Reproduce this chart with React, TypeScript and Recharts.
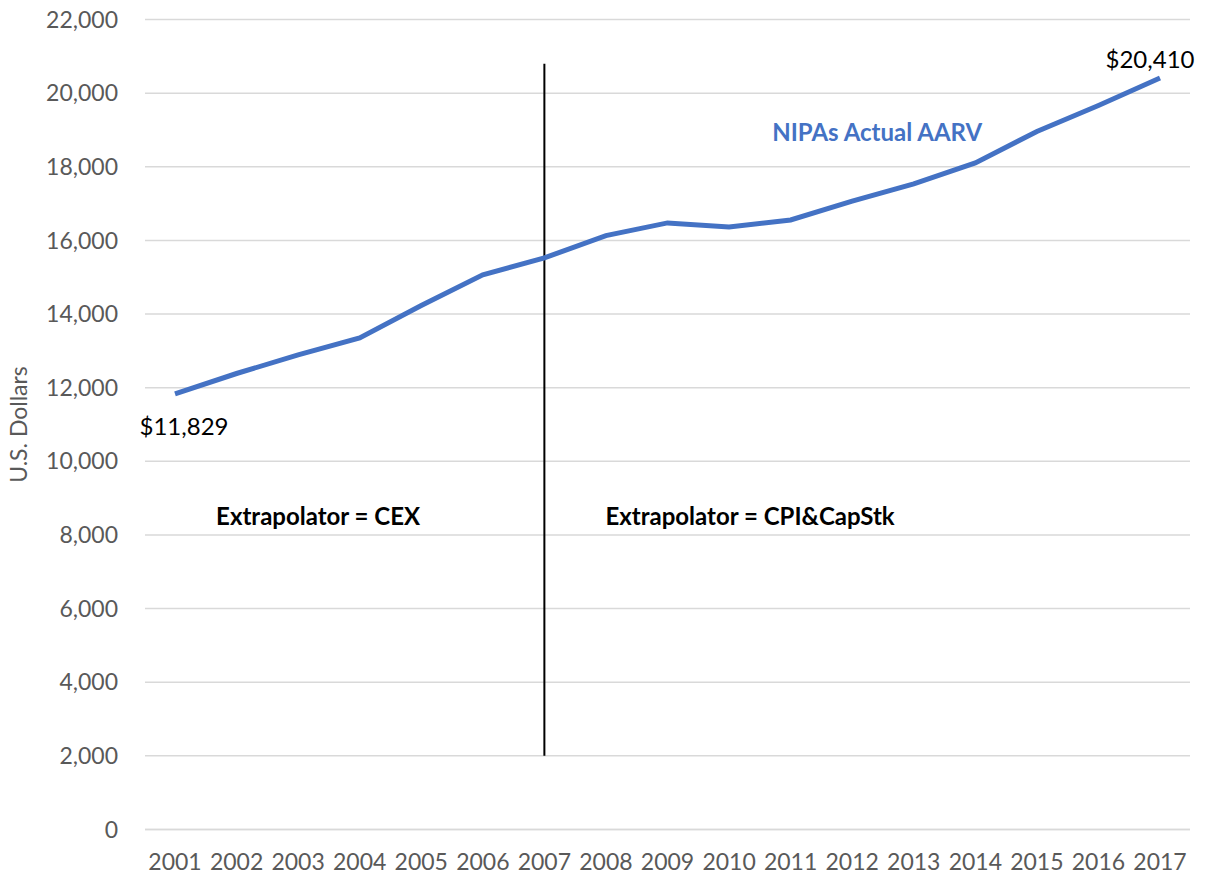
import React from "react";
import { CartesianGrid, LabelList, Line, LineChart, ReferenceDot, ReferenceLine, XAxis, YAxis } from "recharts";

const YEARS = ["2001", "2002", "2003", "2004", "2005", "2006", "2007", "2008", "2009", "2010", "2011", "2012", "2013", "2014", "2015", "2016", "2017"];
const AARV = [11829, 12385, 12890, 13350, 14230, 15065, 15525, 16130, 16475, 16365, 16555, 17065, 17535, 18105, 18957, 19663, 20410];
const Y_TICKS = [0, 2000, 4000, 6000, 8000, 10000, 12000, 14000, 16000, 18000, 20000, 22000];

const FONT = "Lato, 'Open Sans', sans-serif";
const BLUE = "#4472C4";
const GREY = "#595959";

const rows = YEARS.map((year, i) => ({ year, aarv: AARV[i] }));

// only the first and last points carry a value label
function EndLabel(props: any) {
  const { x, y, index, value } = props;
  if (index !== 0 && index !== YEARS.length - 1) return null;
  const first = index === 0;
  return (
    <text
      x={x + (first ? 9 : -10)}
      y={y + (first ? 32 : -20)}
      textAnchor="middle"
      dominantBaseline="central"
      fontFamily={FONT}
      fontSize={24}
      fill="#000"
    >
      ${Number(value).toLocaleString("en-US")}
    </text>
  );
}

function note(text: string, dx: number, color: string) {
  return (props: any) => {
    const { viewBox } = props;
    const cx = viewBox.x + viewBox.width / 2;
    const cy = viewBox.y + viewBox.height / 2;
    return (
      <text x={cx + dx} y={cy} textAnchor="middle" dominantBaseline="central" fontFamily={FONT} fontSize={24} fontWeight={700} fill={color}>
        {text}
      </text>
    );
  };
}

export default function App() {
  return (
    <div style={{ position: "fixed", top: 0, left: 0, background: "#fff" }}>
      <LineChart width={1208} height={882} data={rows} margin={{ top: 19.5, right: 18, bottom: 22.5, left: 0 }}>
        <CartesianGrid vertical={false} stroke="#d9d9d9" strokeWidth={1.5} />
        <XAxis
          dataKey="year"
          padding={{ left: 30, right: 30 }}
          tickLine={false}
          axisLine={{ stroke: "#d9d9d9", strokeWidth: 1.5 }}
          tickSize={0}
          tickMargin={24}
          interval={0}
          tick={{ fill: GREY, fontSize: 23, fontFamily: FONT }}
        />
        <YAxis
          width={145}
          domain={[0, 22000]}
          ticks={Y_TICKS}
          tickFormatter={(v) => Number(v).toLocaleString("en-US")}
          tickLine={false}
          axisLine={false}
          tickSize={0}
          tickMargin={27}
          tick={{ fill: GREY, fontSize: 23, fontFamily: FONT }}
          label={{
            value: "U.S. Dollars",
            angle: -90,
            position: "insideLeft",
            dx: 14,
            fill: GREY,
            fontSize: 23,
            fontFamily: FONT,
            style: { textAnchor: "middle" },
          }}
        />
        <ReferenceLine
          segment={[
            { x: "2007", y: 2000 },
            { x: "2007", y: 20800 },
          ]}
          stroke="#000"
          strokeWidth={2}
        />
        <Line type="linear" dataKey="aarv" stroke={BLUE} strokeWidth={5} dot={false} isAnimationActive={false}>
          <LabelList dataKey="aarv" content={EndLabel} />
        </Line>
        <ReferenceDot x="2003" y={8540} r={0} stroke="none" fill="none" label={note("Extrapolator = CEX", 20, "#000")} />
        <ReferenceDot x="2010" y={8540} r={0} stroke="none" fill="none" label={note("Extrapolator = CPI&CapStk", 21, "#000")} />
        <ReferenceDot x="2012" y={18950} r={0} stroke="none" fill="none" label={note("NIPAs Actual AARV", 25, BLUE)} />
      </LineChart>
    </div>
  );
}
